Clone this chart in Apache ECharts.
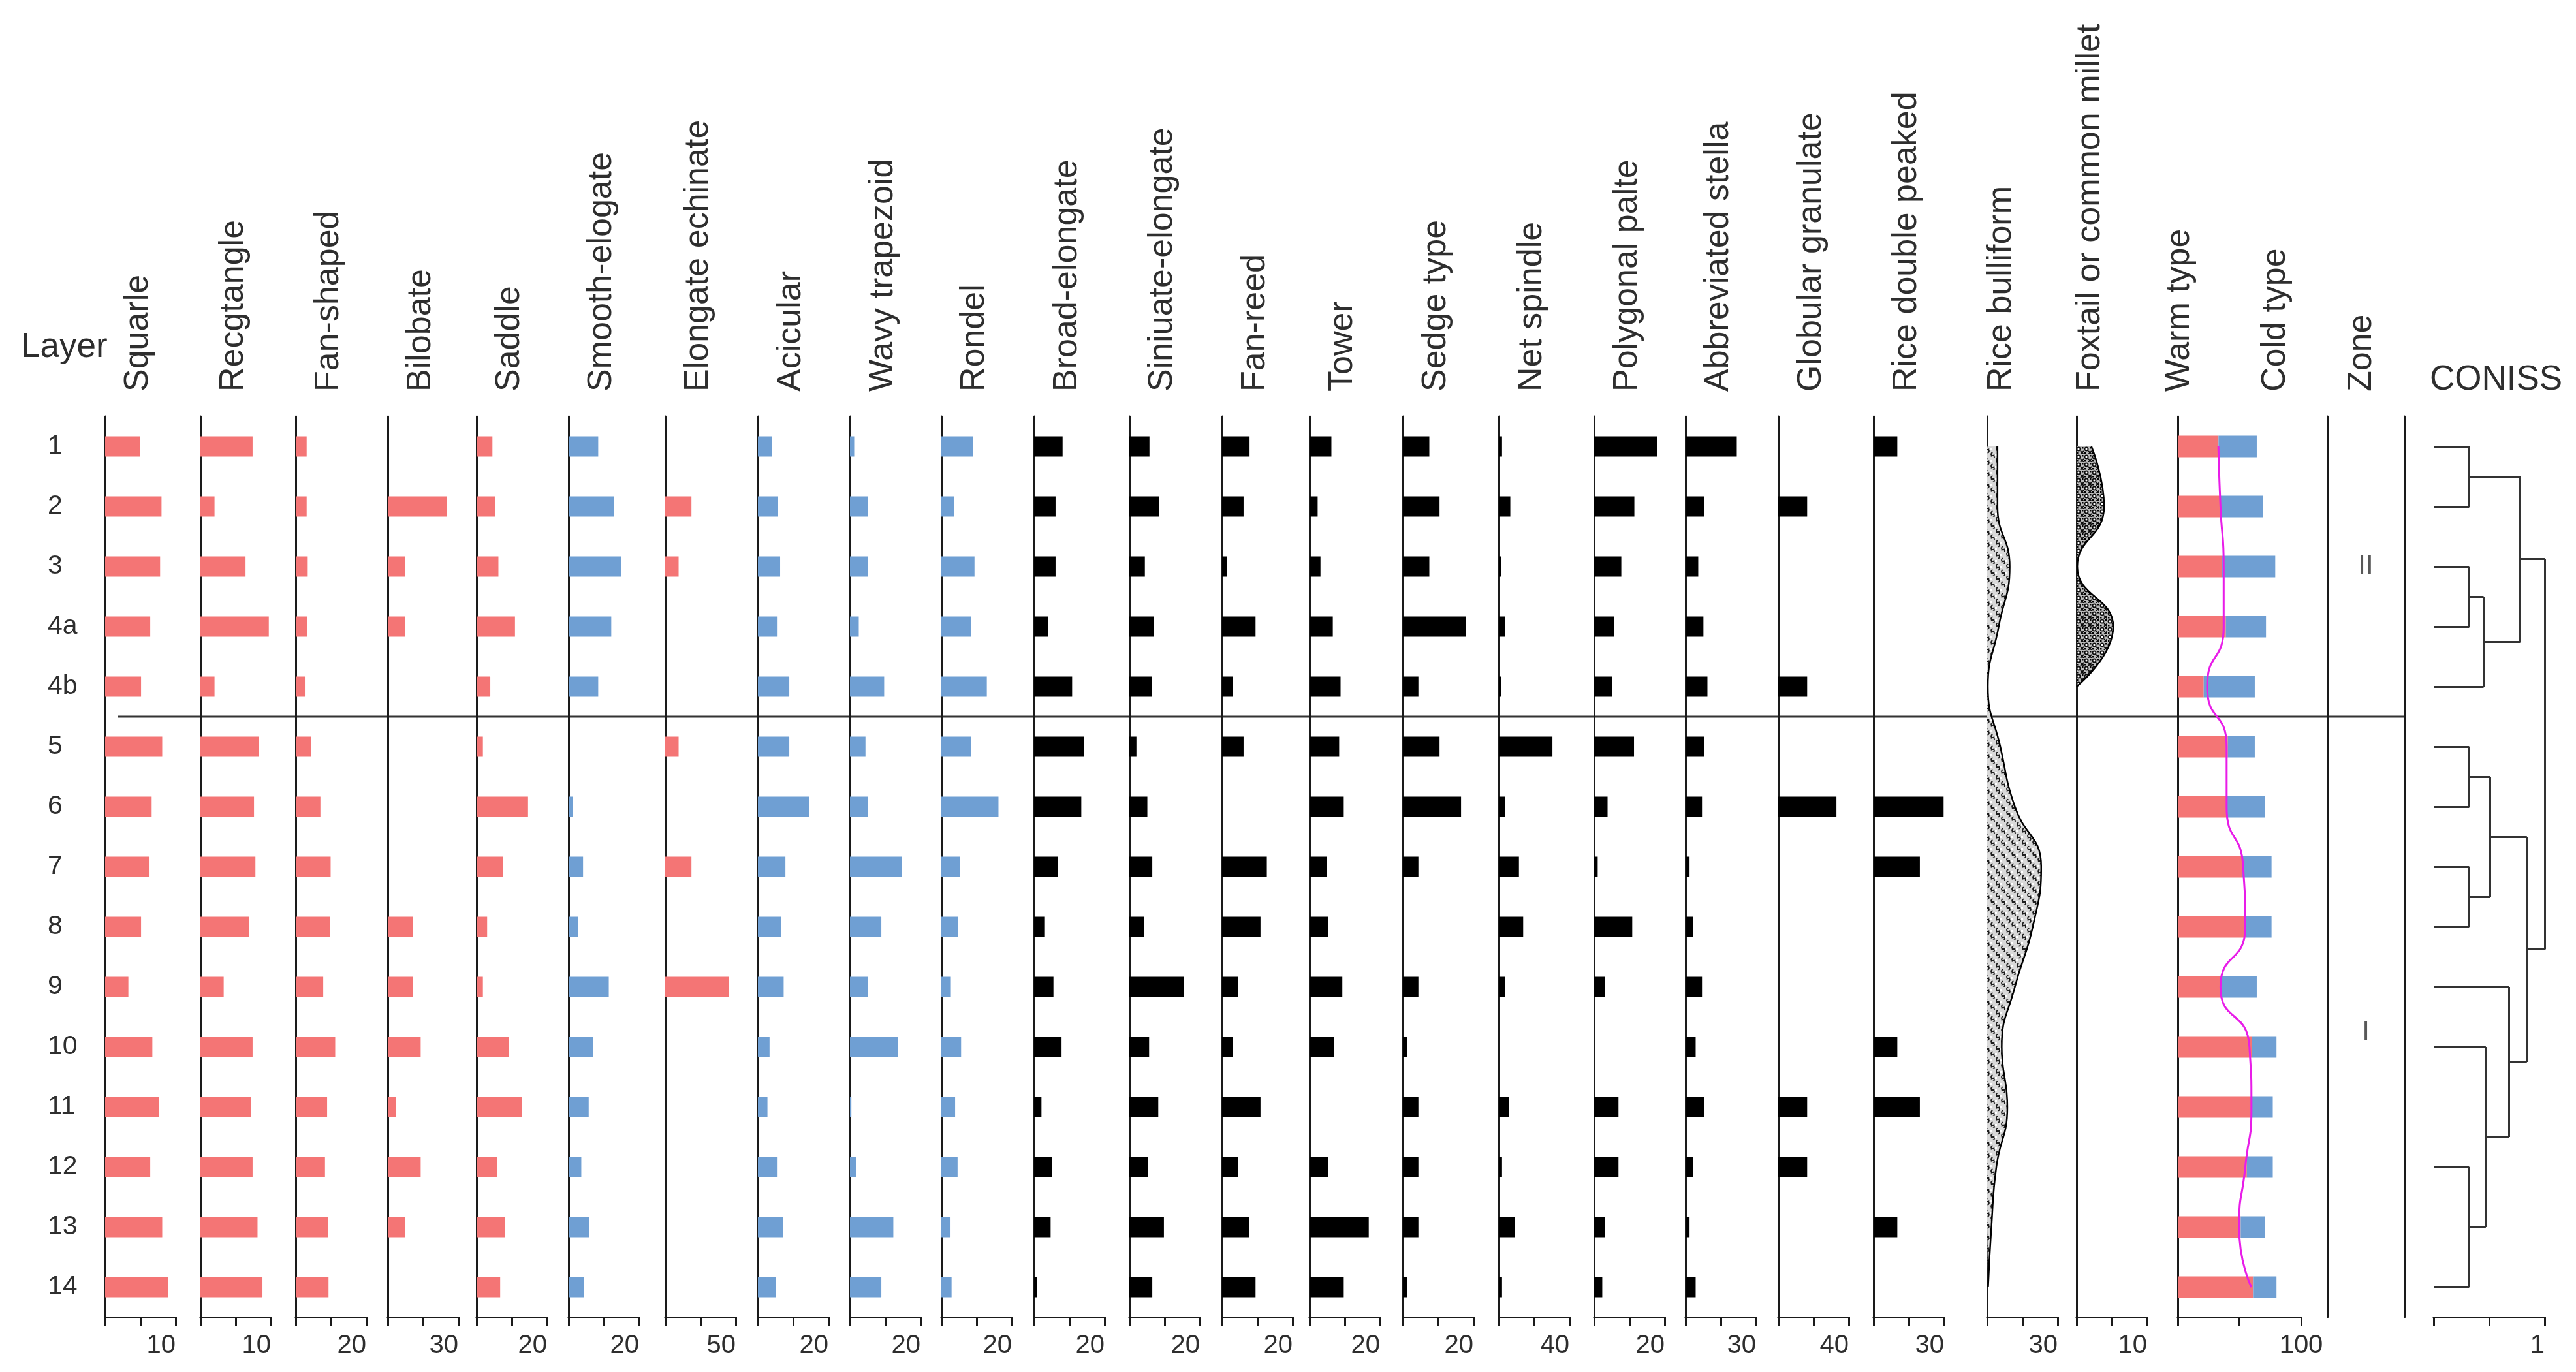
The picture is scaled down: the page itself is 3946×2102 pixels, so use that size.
<!DOCTYPE html>
<html>
<head>
<meta charset="utf-8">
<script src="https://cdn.jsdelivr.net/npm/echarts@6/dist/echarts.min.js"></script>
<style>
  html, body { margin: 0; padding: 0; background: #fff; }
  #chart { width: 3946px; height: 2102px; }
</style>
</head>
<body>
<div id="chart"></div>
<script>
// layers, top to bottom
var layers = ['1', '2', '3', '4a', '4b', '5', '6', '7', '8', '9', '10', '11', '12', '13', '14'];

// phytolith percentages per layer
var squarle = [5.0, 8.0, 7.8, 6.4, 5.1, 8.1, 6.6, 6.3, 5.1, 3.3, 6.7, 7.6, 6.4, 8.1, 8.9];
var recgtangle = [7.4, 2.0, 6.4, 9.7, 2.0, 8.3, 7.6, 7.8, 6.9, 3.3, 7.4, 7.2, 7.4, 8.1, 8.8];
var fanShaped = [3.1, 3.1, 3.4, 3.2, 2.6, 4.3, 7.0, 9.9, 9.7, 7.8, 11.2, 8.9, 8.3, 9.1, 9.3];
var bilobate = [0, 25, 7.3, 7.3, 0, 0, 0, 0, 10.8, 10.8, 14, 3.4, 14, 7.3, 0];
var saddle = [4.5, 5.3, 6.2, 10.9, 3.9, 1.8, 14.6, 7.5, 3.0, 1.8, 9.1, 12.8, 5.9, 8.0, 6.7];
var smoothElogate = [8.4, 12.9, 14.9, 12.1, 8.4, 0, 1.2, 4.1, 2.7, 11.4, 7.0, 5.7, 3.6, 5.8, 4.4];
var elongateEchinate = [0, 18.6, 9.5, 0, 0, 9.5, 0, 18.6, 0, 45, 0, 0, 0, 0, 0];
var acicular = [3.9, 5.6, 6.3, 5.4, 8.9, 8.9, 14.6, 7.8, 6.5, 7.3, 3.3, 2.7, 5.4, 7.2, 5.0];
var wavyTrapezoid = [1.2, 5.1, 5.1, 2.5, 9.7, 4.4, 5.1, 14.8, 8.9, 5.1, 13.6, 0.4, 1.8, 12.3, 8.9];
var rondel = [9.0, 3.7, 9.4, 8.5, 12.9, 8.5, 16.2, 5.2, 4.8, 2.7, 5.6, 3.9, 4.6, 2.6, 2.9];
var broadElongate = [8.1, 6.1, 6.1, 3.9, 10.8, 14.1, 13.4, 6.7, 2.9, 5.5, 7.8, 2.1, 5.0, 4.7, 0.9];
var siniuateElongate = [5.7, 8.5, 4.4, 6.9, 6.3, 2.0, 5.1, 6.5, 4.2, 15.4, 5.6, 8.2, 5.3, 9.8, 6.5];
var fanReed = [7.8, 6.1, 1.3, 9.5, 3.1, 6.1, 0, 12.7, 10.9, 4.5, 3.1, 10.9, 4.5, 7.7, 9.5];
var tower = [6.2, 2.3, 3.1, 6.6, 8.8, 8.4, 9.7, 5.0, 5.2, 9.3, 7.0, 0, 5.2, 16.8, 9.7];
var sedgeType = [7.5, 10.4, 7.5, 17.8, 4.4, 10.4, 16.5, 4.4, 0, 4.4, 1.3, 4.4, 4.4, 4.4, 1.3];
var netSpindle = [1.8, 6.5, 1.3, 3.6, 1.3, 30.4, 3.4, 11.4, 13.8, 3.4, 0, 5.7, 1.8, 9.1, 1.8];
var polygonalPalte = [17.9, 11.4, 7.7, 5.6, 5.1, 11.3, 3.8, 1.0, 10.8, 3.0, 0, 6.9, 6.9, 3.0, 2.3];
var abbreviatedStella = [21.8, 8.0, 5.4, 7.6, 9.3, 8.0, 7.0, 1.7, 3.3, 7.0, 4.3, 8.0, 3.3, 1.7, 4.3];
var globularGranulate = [0, 16.4, 0, 0, 16.4, 0, 33, 0, 0, 0, 0, 16.4, 16.4, 0, 0];
var riceDoublePeaked = [10.1, 0, 0, 0, 0, 0, 29.8, 19.7, 0, 0, 10.1, 19.7, 0, 10.1, 0];

// crop curves
var riceBulliform = [4.4, 4.4, 9.6, 4.9, 0.3, 5.6, 11.8, 23, 19.4, 11.8, 6.2, 8.6, 3.9, 1.8, 0.4];
var foxtailMillet = [2.1, 3.9, 0.1, 5.2, 0, null, null, null, null, null, null, null, null, null, null];

// warm / cold types
var warmType = [33, 34, 36, 39, 21, 40.6, 40, 52, 55, 35, 60, 60, 56, 51, 61];
var coldType = [31, 35, 43, 32.5, 41.4, 21.8, 30.5, 24, 21, 29, 20, 17, 21, 19.5, 19];
var warmTrend = [32.9, 34.6, 37.2, 37.2, 23.8, 39.6, 39.6, 53.0, 54.7, 34.6, 58.1, 59.7, 54.7, 49.7, 59.7];

// zones
var zoneNames = ['II', 'I'];
var zoneLabelRow = [2, 9.75];
var zoneSplitAfter = 4; // zone II ends after layer 4b

// CONISS: leaves (row index) and merges [childA, childB, height]
var conissLeaves = [0, 1, 2, 3, 4, 5, 6, 7, 8, 9, 10, 12, 14];
var conissMerges = [
  [0, 1, 0.32], [2, 3, 0.32], ['m1', 4, 0.45], ['m0', 'm2', 0.78],
  [5, 6, 0.32], [7, 8, 0.32], ['m4', 'm5', 0.51],
  [11, 12, 0.32], [10, 'm7', 0.47], [9, 'm8', 0.68],
  ['m6', 'm9', 0.84], ['m3', 'm10', 1.0]
];

var panelNames = ['Squarle', 'Recgtangle', 'Fan-shaped', 'Bilobate', 'Saddle', 'Smooth-elogate',
  'Elongate echinate', 'Acicular', 'Wavy trapezoid', 'Rondel', 'Broad-elongate', 'Siniuate-elongate',
  'Fan-reed', 'Tower', 'Sedge type', 'Net spindle', 'Polygonal palte', 'Abbreviated stella',
  'Globular granulate', 'Rice double peaked'];
var panelData = [squarle, recgtangle, fanShaped, bilobate, saddle, smoothElogate, elongateEchinate,
  acicular, wavyTrapezoid, rondel, broadElongate, siniuateElongate, fanReed, tower, sedgeType,
  netSpindle, polygonalPalte, abbreviatedStella, globularGranulate, riceDoublePeaked];
var panelMax = [10, 10, 20, 30, 20, 20, 50, 20, 20, 20, 20, 20, 20, 20, 20, 40, 20, 30, 40, 30];
var panelGroup = ['r', 'r', 'r', 'r', 'r', 'b', 'r', 'b', 'b', 'b', 'k', 'k', 'k', 'k', 'k', 'k', 'k', 'k', 'k', 'k'];

// ---- layout / style ----
var RED = '#f47575', BLUE = '#6f9fd3', BLACK = '#000';
var FONT = '"Liberation Sans", Arial, Helvetica, sans-serif';
var TOP = 638, H = 1380, AXW = 108, BAND = H / layers.length;
var LINE = '#1a1a1a', TXT = '#2e2e2e';
var panelX = [161, 307, 453, 594, 730, 871, 1019, 1161, 1302, 1442, 1584, 1730, 1872, 2006, 2149,
  2296, 2442, 2582, 2724, 2870];
var groupColor = { r: RED, b: BLUE, k: BLACK };

// fill textures for the crop curves
function drawS(g, x, y) {
  g.beginPath();
  g.arc(x, y - 2.3, 2.4, Math.PI * 0.1, Math.PI * 1.5, false);
  g.stroke();
  g.beginPath();
  g.arc(x, y + 2.3, 2.4, Math.PI * 1.1, Math.PI * 0.5, false);
  g.stroke();
}
function makePattern(kind) {
  var c = document.createElement('canvas');
  var g = c.getContext('2d');
  if (kind === 's') {
    c.width = 16; c.height = 18;
    g = c.getContext('2d');
    g.fillStyle = '#d9d9d9';
    g.fillRect(0, 0, 16, 18);
    g.strokeStyle = '#1e1e1e';
    g.lineWidth = 1.8;
    drawS(g, 4.5, 5);
    drawS(g, 12.5, 14);
    g.fillStyle = '#fff';
    g.fillRect(8, 3, 3, 3);
    g.fillRect(0, 12, 3, 3);
  } else {
    c.width = 12; c.height = 12;
    g = c.getContext('2d');
    g.fillStyle = '#bcbcbc';
    g.fillRect(0, 0, 12, 12);
    g.strokeStyle = '#0d0d0d';
    g.lineWidth = 1.8;
    g.beginPath();
    g.arc(4, 4, 2.6, 0, Math.PI * 2);
    g.stroke();
    g.beginPath();
    g.moveTo(7, 7); g.lineTo(12, 12); g.moveTo(12, 7); g.lineTo(7, 12);
    g.stroke();
    g.fillStyle = '#000';
    g.fillRect(9, 1, 2.5, 2.5);
    g.fillRect(1, 9, 2.5, 2.5);
    g.fillStyle = '#fff';
    g.fillRect(3, 3, 2, 2);
  }
  return c;
}

var grids = [], xAxes = [], yAxes = [], series = [];

function valueAxis(gi, max, align) {
  return {
    gridIndex: gi, type: 'value', min: 0, max: max, interval: max / 2,
    axisLine: { show: true, onZero: false, lineStyle: { color: LINE, width: 3 } },
    axisTick: { show: true, length: 13, lineStyle: { color: LINE, width: 3 } },
    splitLine: { show: false },
    axisLabel: {
      show: true, fontSize: 40, color: TXT, fontFamily: FONT, margin: 24, align: align || 'right',
      formatter: function (v) { return v === max ? String(v) : ''; }
    }
  };
}

function catAxis(gi, withLabels) {
  return {
    gridIndex: gi, type: 'category', data: layers, inverse: true,
    axisLine: { show: true, onZero: false, lineStyle: { color: LINE, width: 3 } },
    axisTick: { show: false },
    axisLabel: withLabels
      ? { show: true, align: 'left', margin: 88, fontSize: 41, color: TXT, fontFamily: FONT }
      : { show: false }
  };
}

panelNames.forEach(function (name, i) {
  grids.push({ left: panelX[i], top: TOP, width: AXW, height: H });
  xAxes.push(valueAxis(i, panelMax[i]));
  yAxes.push(catAxis(i, i === 0));
  series.push({
    type: 'bar', name: name, xAxisIndex: i, yAxisIndex: i, data: panelData[i],
    barWidth: 31, silent: true, itemStyle: { color: groupColor[panelGroup[i]] }
  });
});

// rice bulliform
var gi = grids.length;
grids.push({ left: 3044, top: TOP, width: AXW, height: H });
xAxes.push(valueAxis(gi, 30));
yAxes.push(catAxis(gi, false));
series.push({
  type: 'line', name: 'Rice bulliform', xAxisIndex: gi, yAxisIndex: gi, data: riceBulliform,
  smooth: 0.5, symbol: 'none', silent: true,
  lineStyle: { color: BLACK, width: 2.5 },
  areaStyle: { color: { image: makePattern('s'), repeat: 'repeat' }, opacity: 1 }
});

// foxtail or common millet
gi = grids.length;
grids.push({ left: 3181, top: TOP, width: AXW, height: H });
xAxes.push(valueAxis(gi, 10));
yAxes.push(catAxis(gi, false));
series.push({
  type: 'line', name: 'Foxtail or common millet', xAxisIndex: gi, yAxisIndex: gi, data: foxtailMillet,
  smooth: 0.5, symbol: 'none', silent: true, connectNulls: false,
  lineStyle: { color: BLACK, width: 2.5 },
  areaStyle: { color: { image: makePattern('x'), repeat: 'repeat' }, opacity: 1 }
});

// warm / cold
gi = grids.length;
grids.push({ left: 3336, top: TOP, width: 189, height: H });
xAxes.push(valueAxis(gi, 100, 'center'));
yAxes.push(catAxis(gi, false));
series.push({
  type: 'bar', name: 'Warm type', xAxisIndex: gi, yAxisIndex: gi, data: warmType, stack: 'wc',
  barWidth: 33, silent: true, itemStyle: { color: RED }
});
series.push({
  type: 'bar', name: 'Cold type', xAxisIndex: gi, yAxisIndex: gi, data: coldType, stack: 'wc',
  barWidth: 33, silent: true, itemStyle: { color: BLUE }
});
series.push({
  type: 'line', name: 'Warm trend', xAxisIndex: gi, yAxisIndex: gi, data: warmTrend,
  smooth: 0.6, symbol: 'none', silent: true, z: 5,
  lineStyle: { color: '#e81de8', width: 3 }
});

// zone column
gi = grids.length;
grids.push({ left: 3565, top: TOP, width: 118, height: H });
xAxes.push({ gridIndex: gi, type: 'value', min: 0, max: 1, show: false });
var zoneY = {
  gridIndex: gi, type: 'value', min: -0.5, max: layers.length - 0.5, inverse: true,
  axisLine: { show: true, onZero: false, lineStyle: { color: LINE, width: 3 } },
  axisTick: { show: false }, axisLabel: { show: false }, splitLine: { show: false }
};
yAxes.push(zoneY);
var zoneYIndex = yAxes.length - 1;
yAxes.push(Object.assign({}, zoneY, { position: 'right' }));
series.push({
  type: 'scatter', xAxisIndex: gi, yAxisIndex: zoneYIndex, symbolSize: 0, silent: true,
  data: zoneNames.map(function (n, k) { return { name: n, value: [0.5, zoneLabelRow[k]] }; }),
  label: { show: true, position: 'inside', formatter: '{b}', fontSize: 42, color: TXT, fontFamily: FONT }
});

// CONISS dendrogram
gi = grids.length;
grids.push({ left: 3728, top: TOP, width: 170, height: H });
xAxes.push(valueAxis(gi, 1));
yAxes.push({ gridIndex: gi, type: 'value', min: -0.5, max: layers.length - 0.5, inverse: true, show: false });
var dendroYIndex = yAxes.length - 1;

var nodes = {};
conissLeaves.forEach(function (r, k) { nodes[k] = { x: 0, y: r }; });
var segs = [];
conissMerges.forEach(function (m, k) {
  var a = nodes[m[0]], b = nodes[m[1]], h = m[2];
  segs.push({ coords: [[a.x, a.y], [h, a.y]] });
  segs.push({ coords: [[b.x, b.y], [h, b.y]] });
  segs.push({ coords: [[h, a.y], [h, b.y]] });
  nodes['m' + k] = { x: h, y: (a.y + b.y) / 2 };
});
series.push({
  type: 'lines', coordinateSystem: 'cartesian2d', xAxisIndex: gi, yAxisIndex: dendroYIndex,
  silent: true, data: segs, lineStyle: { color: '#333', width: 3, opacity: 1 }
});

// titles
function vTitle(text, x) {
  return {
    type: 'text', x: x, y: 600, rotation: Math.PI / 2, silent: true,
    style: {
      text: text, fill: TXT, font: '52px ' + FONT,
      align: 'left', verticalAlign: 'middle', textAlign: 'left', textVerticalAlign: 'middle'
    }
  };
}
function hTitle(text, x, y) {
  return {
    type: 'text', x: x, y: y, silent: true,
    style: {
      text: text, fill: TXT, font: '53px ' + FONT,
      align: 'left', verticalAlign: 'middle', textAlign: 'left', textVerticalAlign: 'middle'
    }
  };
}
var graphics = panelNames.map(function (n, i) { return vTitle(n, panelX[i] + 51); });
graphics.push(vTitle('Rice bulliform', 3066));
graphics.push(vTitle('Foxtail or common millet', 3202));
graphics.push(vTitle('Warm type', 3339));
graphics.push(vTitle('Cold type', 3486));
graphics.push(vTitle('Zone', 3618));
graphics.push(hTitle('Layer', 32, 532));
graphics.push(hTitle('CONISS', 3722, 582));
// zone boundary
var splitY = TOP + (zoneSplitAfter + 1) * BAND;
graphics.push({
  type: 'line', silent: true, shape: { x1: 180, y1: splitY, x2: 3683, y2: splitY },
  style: { stroke: '#333', lineWidth: 3 }
});

var chart = echarts.init(document.getElementById('chart'), null, { renderer: 'canvas' });
chart.setOption({
  backgroundColor: '#fff',
  animation: false,
  textStyle: { fontFamily: FONT },
  grid: grids,
  xAxis: xAxes,
  yAxis: yAxes,
  series: series,
  graphic: graphics
});
</script>
</body>
</html>
